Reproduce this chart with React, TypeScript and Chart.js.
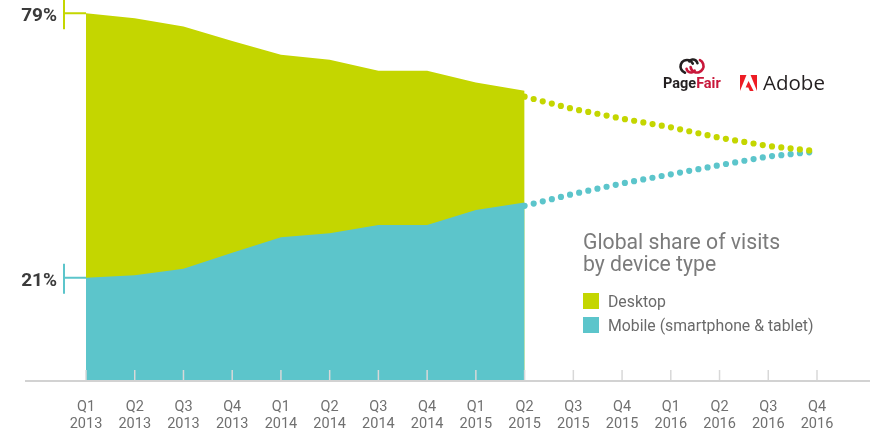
import { useEffect, useRef } from 'react';
import { Chart, registerables } from 'chart.js';

Chart.register(...registerables);

// ---- data ----
const quarters = ['Q1', 'Q2', 'Q3', 'Q4', 'Q1', 'Q2', 'Q3', 'Q4', 'Q1', 'Q2', 'Q3', 'Q4', 'Q1', 'Q2', 'Q3', 'Q4'];
const years = ['2013', '2013', '2013', '2013', '2014', '2014', '2014', '2014', '2015', '2015', '2015', '2015', '2016', '2016', '2016', '2016'];
const desktopActual = [79, 77.9, 76.1, 72.9, 69.9, 68.8, 66.4, 66.4, 63.8, 62.0, null, null, null, null, null, null];
const mobileActual = [21, 21.6, 23.0, 26.5, 29.9, 30.8, 32.6, 32.6, 35.9, 37.5, null, null, null, null, null, null];
const desktopProjection = [null, null, null, null, null, null, null, null, null, 60.7, 58.0, 55.9, 54.0, 51.7, 49.9, 48.75];
const mobileProjection = [null, null, null, null, null, null, null, null, null, 36.8, 39.4, 41.7, 43.7, 45.7, 47.6, 48.7];
const seriesNames = ['Desktop', 'Mobile (smartphone & tablet)'];
const titleLines = ['Global share of visits', 'by device type'];
const startLabels = ['79%', '21%'];

const DESKTOP = '#c4d600';
const MOBILE = '#5cc5cb';
const FONT = 'Roboto, "Noto Sans", sans-serif';

const decorPlugin = {
  id: 'decor',
  afterDatasetsDraw(chart: any) {
    const { ctx, chartArea } = chart;
    const xs = chart.scales.x;
    const ys = chart.scales.y;
    ctx.save();

    // tick marks
    ctx.strokeStyle = '#d8d8d8';
    ctx.lineWidth = 1.5;
    for (let i = 0; i < quarters.length; i++) {
      const px = xs.getPixelForValue(i);
      ctx.beginPath();
      ctx.moveTo(px, chartArea.bottom - 11);
      ctx.lineTo(px, chartArea.bottom);
      ctx.stroke();
    }
    // axis line
    ctx.strokeStyle = '#d2d2d2';
    ctx.lineWidth = 2;
    ctx.beginPath();
    ctx.moveTo(25, chartArea.bottom);
    ctx.lineTo(870, chartArea.bottom);
    ctx.stroke();

    // start markers
    const starts = [
      { v: desktopActual[0] as number, c: DESKTOP, t: startLabels[0] },
      { v: mobileActual[0] as number, c: MOBILE, t: startLabels[1] },
    ];
    starts.forEach((s) => {
      const py = ys.getPixelForValue(s.v);
      ctx.strokeStyle = s.c;
      ctx.lineWidth = 2;
      ctx.beginPath();
      ctx.moveTo(64, Math.max(0, py - 14));
      ctx.lineTo(64, py + 16);
      ctx.moveTo(64, py);
      ctx.lineTo(chartArea.left, py);
      ctx.stroke();
      ctx.fillStyle = '#3b3b3b';
      ctx.font = `bold 19px ${FONT}`;
      ctx.textAlign = 'right';
      ctx.textBaseline = 'middle';
      ctx.fillText(s.t, 57, py + 3);
    });

    // title
    ctx.fillStyle = '#7b7b7b';
    ctx.font = `21.2px ${FONT}`;
    ctx.textAlign = 'left';
    ctx.textBaseline = 'alphabetic';
    ctx.fillText(titleLines[0], 583, 249);
    ctx.fillText(titleLines[1], 583, 271);

    // legend
    const legendColors = [DESKTOP, MOBILE];
    const legendTops = [293, 317];
    ctx.font = `15.8px ${FONT}`;
    seriesNames.forEach((name, i) => {
      ctx.fillStyle = legendColors[i];
      ctx.fillRect(583, legendTops[i], 16, 16);
      ctx.fillStyle = '#6a6a6a';
      ctx.fillText(name, 608, legendTops[i] + 14);
    });

    // PageFair logo
    ctx.lineWidth = 2.6;
    ctx.lineCap = 'round';
    ctx.strokeStyle = '#231f20';
    ctx.beginPath();
    ctx.arc(687, 66.5, 6.5, 0.6 * Math.PI, 1.85 * Math.PI);
    ctx.stroke();
    ctx.beginPath();
    ctx.arc(693, 64, 4.5, 1.2 * Math.PI, 1.95 * Math.PI);
    ctx.stroke();
    ctx.strokeStyle = '#c8173a';
    ctx.beginPath();
    ctx.arc(697, 66, 6.5, 1.65 * Math.PI, 0.95 * Math.PI);
    ctx.stroke();
    ctx.beginPath();
    ctx.arc(691, 68, 4.5, 0.2 * Math.PI, 0.95 * Math.PI);
    ctx.stroke();
    ctx.lineCap = 'butt';

    ctx.font = `bold 14.5px ${FONT}`;
    ctx.textBaseline = 'alphabetic';
    ctx.fillStyle = '#231f20';
    ctx.fillText('Page', 663, 88);
    const pw = ctx.measureText('Page').width;
    ctx.fillStyle = '#c8173a';
    ctx.fillText('Fair', 663 + pw, 88);

    // Adobe logo
    const ax = 740, ay = 75, aw = 17, ah = 16;
    const poly = (pts: number[][]) => {
      ctx.beginPath();
      pts.forEach(([u, v], k) => {
        const X = ax + u * aw, Y = ay + v * ah;
        if (k === 0) ctx.moveTo(X, Y); else ctx.lineTo(X, Y);
      });
      ctx.closePath();
      ctx.fill();
    };
    ctx.fillStyle = '#ed1c24';
    poly([[0, 0], [0.38, 0], [0, 1]]);
    poly([[0.62, 0], [1, 0], [1, 1]]);
    poly([[0.5, 0.37], [0.8, 1], [0.58, 1], [0.49, 0.78], [0.33, 0.78]]);
    ctx.fillStyle = '#231f20';
    ctx.font = `20.5px "Open Sans", ${FONT}`;
    ctx.fillText('Adobe', 763, 90);

    ctx.restore();
  },
};

export default function App() {
  const ref = useRef<HTMLCanvasElement | null>(null);

  useEffect(() => {
    document.body.style.margin = '0';
    if (!ref.current) return;
    const labels = quarters.map((q, i) => [q, years[i]]);
    const chart = new Chart(ref.current, {
      type: 'line',
      data: {
        labels,
        datasets: [
          {
            label: seriesNames[0],
            data: desktopActual,
            backgroundColor: DESKTOP,
            borderColor: DESKTOP,
            borderWidth: 0,
            fill: 'start',
            pointRadius: 0,
            tension: 0,
            order: 3,
          },
          {
            label: seriesNames[1],
            data: mobileActual,
            backgroundColor: MOBILE,
            borderColor: MOBILE,
            borderWidth: 0,
            fill: 'start',
            pointRadius: 0,
            tension: 0,
            order: 2,
          },
          {
            label: seriesNames[0] + ' projection',
            data: desktopProjection,
            borderColor: DESKTOP,
            borderWidth: 6.2,
            borderDash: [0, 9.35],
            borderCapStyle: 'round',
            fill: false,
            pointRadius: 0,
            tension: 0,
            order: 0,
          },
          {
            label: seriesNames[1] + ' projection',
            data: mobileProjection,
            borderColor: MOBILE,
            borderWidth: 6.2,
            borderDash: [0, 9.35],
            borderCapStyle: 'round',
            fill: false,
            pointRadius: 0,
            tension: 0,
            order: 1,
          },
        ] as any,
      },
      options: {
        responsive: false,
        animation: false,
        layout: { padding: { left: 86, right: 58, top: 5, bottom: 0 } },
        plugins: {
          legend: { display: false },
          tooltip: { enabled: false },
        },
        scales: {
          x: {
            grid: { display: false, drawTicks: false },
            border: { display: false },
            ticks: {
              color: '#707070',
              font: { family: FONT, size: 14.5, lineHeight: '17px' } as any,
              padding: 17.5,
              maxRotation: 0,
              autoSkip: false,
            },
            afterFit: (s: any) => {
              s.height = 52;
            },
          },
          y: { display: false, min: -1.6, max: 80.8 },
        },
      },
      plugins: [decorPlugin],
    });
    return () => chart.destroy();
  }, []);

  return (
    <div style={{ position: 'absolute', left: 0, top: 0, width: 875, height: 433 }}>
      <canvas ref={ref} width={875} height={433} style={{ width: 875, height: 433 }} />
    </div>
  );
}
